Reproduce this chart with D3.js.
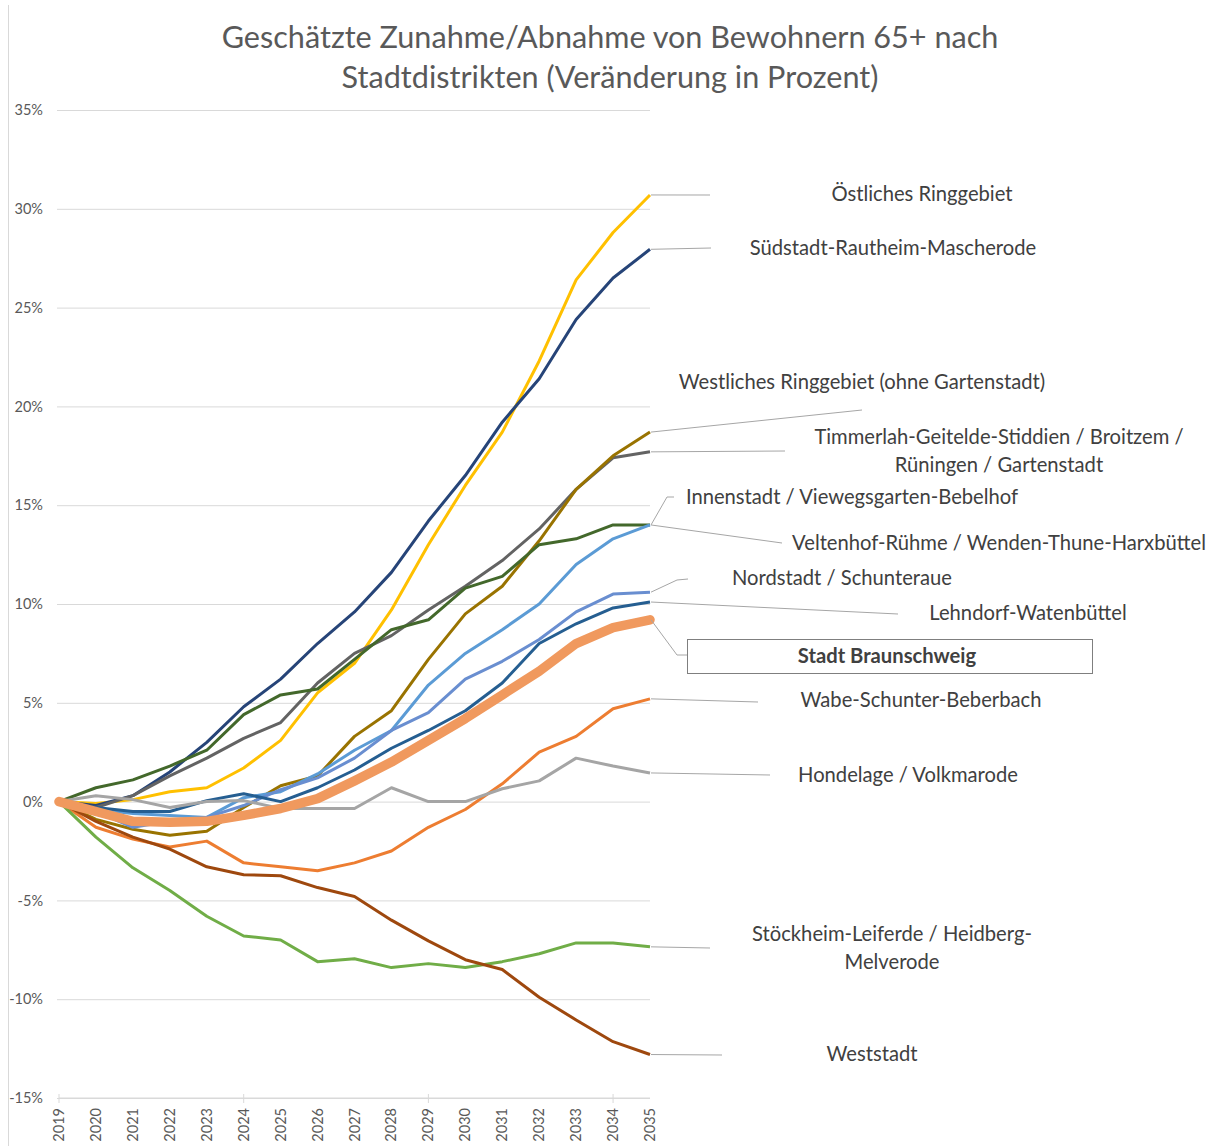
<!DOCTYPE html>
<html>
<head>
<meta charset="utf-8">
<script src="https://cdn.jsdelivr.net/npm/d3@7"></script>
<style>
  body { margin: 0; background: #fff; }
  svg { font-family: Lato, "Open Sans", sans-serif; }
</style>
</head>
<body>
<div id="chart"></div>
<script>
// years on the x axis
const years = [2019, 2020, 2021, 2022, 2023, 2024, 2025, 2026, 2027, 2028, 2029, 2030, 2031, 2032, 2033, 2034, 2035];
const yTicks = [-15, -10, -5, 0, 5, 10, 15, 20, 25, 30, 35];

// change in percent
const oestlichesRinggebiet = [0, -0.1, 0.1, 0.5, 0.7, 1.7, 3.1, 5.5, 7.0, 9.7, 13.0, 16.0, 18.7, 22.3, 26.4, 28.8, 30.7];
const suedstadt = [0, -0.2, 0.3, 1.5, 3.0, 4.8, 6.2, 8.0, 9.6, 11.6, 14.2, 16.5, 19.2, 21.4, 24.4, 26.5, 27.95];
const westlichesRinggebiet = [0, -0.9, -1.4, -1.7, -1.5, -0.3, 0.8, 1.3, 3.3, 4.6, 7.2, 9.5, 10.9, 13.2, 15.8, 17.5, 18.7];
const timmerlah = [0, -0.3, 0.3, 1.3, 2.2, 3.2, 4.0, 6.0, 7.5, 8.4, 9.7, 10.9, 12.2, 13.8, 15.8, 17.4, 17.7];
const innenstadt = [0, -0.4, -0.6, -0.7, -0.8, 0.2, 0.5, 1.4, 2.6, 3.6, 5.9, 7.5, 8.7, 10.0, 12.0, 13.3, 14.0];
const veltenhof = [0, 0.7, 1.1, 1.8, 2.6, 4.4, 5.4, 5.7, 7.2, 8.7, 9.2, 10.8, 11.4, 13.0, 13.3, 14.0, 14.0];
const nordstadt = [0, -0.5, -1.3, -1.0, -0.8, -0.2, 0.6, 1.2, 2.2, 3.6, 4.5, 6.2, 7.1, 8.2, 9.6, 10.5, 10.6];
const lehndorf = [0, -0.3, -0.5, -0.5, 0.05, 0.4, 0.0, 0.7, 1.6, 2.7, 3.6, 4.6, 6.0, 8.0, 9.0, 9.8, 10.1];
const stadtBraunschweig = [0, -0.5, -1.0, -1.05, -1.0, -0.7, -0.35, 0.15, 1.05, 2.0, 3.1, 4.2, 5.4, 6.6, 8.0, 8.8, 9.2];
const wabeSchunter = [0, -1.3, -1.9, -2.3, -2.0, -3.1, -3.3, -3.5, -3.1, -2.5, -1.3, -0.4, 0.9, 2.5, 3.3, 4.7, 5.2];
const hondelage = [0, 0.3, 0.1, -0.3, 0.0, 0.05, -0.35, -0.35, -0.35, 0.7, 0.0, 0.0, 0.65, 1.05, 2.2, 1.8, 1.45];
const stoeckheim = [0, -1.8, -3.35, -4.5, -5.8, -6.8, -7.0, -8.1, -7.95, -8.4, -8.2, -8.4, -8.1, -7.7, -7.15, -7.15, -7.35];
const weststadt = [0, -1.0, -1.8, -2.4, -3.3, -3.7, -3.75, -4.35, -4.8, -6.0, -7.05, -8.0, -8.5, -9.9, -11.05, -12.15, -12.8];

const series = [
  { name: "Östliches Ringgebiet", values: oestlichesRinggebiet, color: "#ffc000" },
  { name: "Südstadt-Rautheim-Mascherode", values: suedstadt, color: "#264478" },
  { name: "Timmerlah-Geitelde-Stiddien / Broitzem / Rüningen / Gartenstadt", values: timmerlah, color: "#636363" },
  { name: "Westliches Ringgebiet (ohne Gartenstadt)", values: westlichesRinggebiet, color: "#997300" },
  { name: "Veltenhof-Rühme / Wenden-Thune-Harxbüttel", values: veltenhof, color: "#43682b" },
  { name: "Innenstadt / Viewegsgarten-Bebelhof", values: innenstadt, color: "#5b9bd5" },
  { name: "Nordstadt / Schunteraue", values: nordstadt, color: "#698ed0" },
  { name: "Lehndorf-Watenbüttel", values: lehndorf, color: "#255e91" },
  { name: "Wabe-Schunter-Beberbach", values: wabeSchunter, color: "#ed7d31" },
  { name: "Hondelage / Volkmarode", values: hondelage, color: "#a5a5a5" },
  { name: "Stöckheim-Leiferde / Heidberg-Melverode", values: stoeckheim, color: "#70ad47" },
  { name: "Weststadt", values: weststadt, color: "#9e480e" },
  { name: "Stadt Braunschweig", values: stadtBraunschweig, color: "#f0995e", thick: true }
];

// label placement (pixels): text lines, centre x, first baseline, leader bend points
const labelLayout = {
  "Östliches Ringgebiet": { lines: ["Östliches Ringgebiet"], x: 922, y: 201, path: [[710, 195]] },
  "Südstadt-Rautheim-Mascherode": { lines: ["Südstadt-Rautheim-Mascherode"], x: 893, y: 255, path: [[711, 248]] },
  "Westliches Ringgebiet (ohne Gartenstadt)": { lines: ["Westliches Ringgebiet (ohne Gartenstadt)"], x: 862, y: 389, path: [[862, 410]] },
  "Timmerlah-Geitelde-Stiddien / Broitzem / Rüningen / Gartenstadt": { lines: ["Timmerlah-Geitelde-Stiddien / Broitzem /", "Rüningen / Gartenstadt"], x: 999, y: 444, path: [[785, 451]] },
  "Innenstadt / Viewegsgarten-Bebelhof": { lines: ["Innenstadt / Viewegsgarten-Bebelhof"], x: 852, y: 504, path: [[667, 497], [674, 497]] },
  "Veltenhof-Rühme / Wenden-Thune-Harxbüttel": { lines: ["Veltenhof-Rühme / Wenden-Thune-Harxbüttel"], x: 999, y: 550, path: [[782, 543]] },
  "Nordstadt / Schunteraue": { lines: ["Nordstadt / Schunteraue"], x: 842, y: 585, path: [[677, 580], [688, 579]] },
  "Lehndorf-Watenbüttel": { lines: ["Lehndorf-Watenbüttel"], x: 1028, y: 620, path: [[898, 614]] },
  "Stadt Braunschweig": { lines: ["Stadt Braunschweig"], x: 887, y: 663, path: [[677, 655], [687, 655]], box: [687, 639, 405, 34] },
  "Wabe-Schunter-Beberbach": { lines: ["Wabe-Schunter-Beberbach"], x: 921, y: 707, path: [[758, 702]] },
  "Hondelage / Volkmarode": { lines: ["Hondelage / Volkmarode"], x: 908, y: 782, path: [[770, 775]] },
  "Stöckheim-Leiferde / Heidberg-Melverode": { lines: ["Stöckheim-Leiferde / Heidberg-", "Melverode"], x: 892, y: 941, path: [[710, 948]] },
  "Weststadt": { lines: ["Weststadt"], x: 872, y: 1061, path: [[722, 1055]] }
};

const width = 1219, height = 1146;
const svg = d3.select("#chart").append("svg")
  .attr("width", width)
  .attr("height", height);

const x = d3.scaleLinear().domain([2019, 2035]).range([59, 650]);
const y = d3.scaleLinear().domain([-15, 35]).range([1098, 110]);

// chart area left border
svg.append("line")
  .attr("x1", 8.5).attr("x2", 8.5)
  .attr("y1", 5).attr("y2", height)
  .attr("stroke", "#d9d9d9");

// title
svg.append("text")
  .attr("x", 610).attr("y", 48)
  .attr("text-anchor", "middle")
  .attr("fill", "#595959")
  .style("font-size", "30.6px")
  .text("Geschätzte Zunahme/Abnahme von Bewohnern 65+ nach");
svg.append("text")
  .attr("x", 610).attr("y", 88)
  .attr("text-anchor", "middle")
  .attr("fill", "#595959")
  .style("font-size", "30.6px")
  .text("Stadtdistrikten (Veränderung in Prozent)");

// gridlines + y labels
const yAxis = d3.axisLeft(y)
  .tickValues(yTicks)
  .tickSize(-(650 - 57))
  .tickFormat(d => d + "%");
const yAxisGroup = svg.append("g")
  .attr("transform", "translate(57,0)")
  .call(yAxis);
yAxisGroup.select(".domain").remove();
yAxisGroup.selectAll("line").attr("stroke", "#d9d9d9").attr("stroke-width", 1);
yAxisGroup.selectAll("text")
  .attr("x", -14)
  .attr("fill", "#595959")
  .style("font-size", "14.5px")
  .style("font-family", "Lato, sans-serif");

// x axis
const xAxisGroup = svg.append("g")
  .attr("transform", `translate(0,${y(-15)})`);
xAxisGroup.append("line")
  .attr("x1", x(2019)).attr("x2", x(2035))
  .attr("stroke", "#d9d9d9");
xAxisGroup.selectAll(".tick-mark")
  .data(years.filter(d => (d - 2019) % 5 === 0))
  .enter().append("line")
  .attr("x1", d => x(d)).attr("x2", d => x(d))
  .attr("y1", -4).attr("y2", 5)
  .attr("stroke", "#d9d9d9");
xAxisGroup.selectAll(".year")
  .data(years)
  .enter().append("text")
  .attr("transform", d => `translate(${x(d) + 5},10) rotate(-90)`)
  .attr("text-anchor", "end")
  .attr("fill", "#595959")
  .style("font-size", "14.5px")
  .text(d => d);

// lines
const line = d3.line()
  .x((d, i) => x(years[i]))
  .y(d => y(d));

svg.append("g").selectAll("path")
  .data(series)
  .enter().append("path")
  .attr("d", d => line(d.values))
  .attr("fill", "none")
  .attr("stroke", d => d.color)
  .attr("stroke-width", d => d.thick ? 9.5 : 3)
  .attr("stroke-linejoin", "round")
  .attr("stroke-linecap", d => d.thick ? "round" : "butt");

// leader lines and labels
const labels = svg.append("g");
series.forEach(s => {
  const lay = labelLayout[s.name];
  const start = [x(2035) + 1, y(s.values[s.values.length - 1])];
  labels.append("path")
    .attr("d", d3.line()([start].concat(lay.path)))
    .attr("fill", "none")
    .attr("stroke", "#a6a6a6")
    .attr("stroke-width", 1);
  if (lay.box) {
    labels.append("rect")
      .attr("x", lay.box[0] + 0.5).attr("y", lay.box[1] + 0.5)
      .attr("width", lay.box[2]).attr("height", lay.box[3])
      .attr("fill", "#fff")
      .attr("stroke", "#7f7f7f")
      .attr("stroke-width", 1);
  }
  const t = labels.append("text")
    .attr("text-anchor", "middle")
    .attr("fill", "#404040")
    .style("font-size", "20.2px")
    .style("font-weight", s.thick ? "bold" : "normal");
  lay.lines.forEach((l, i) => {
    t.append("tspan")
      .attr("x", lay.x)
      .attr("y", lay.y + i * 28)
      .text(l);
  });
});
</script>
</body>
</html>
